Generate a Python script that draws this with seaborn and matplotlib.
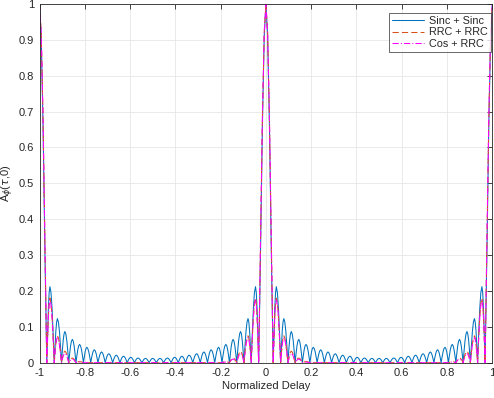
import numpy as np
import pandas as pd
import matplotlib
matplotlib.use("Agg")
import matplotlib.pyplot as plt
import seaborn as sns

# ---- data (half period, mirrored around each peak) ----
centers = [-1.0, 0.0, 1.0]
main_x = [0.0, 0.0075, 0.0155, 0.024, 0.032]
main_sinc = [1.0, 0.91, 0.66, 0.30, 0.0]
main_rrc = [1.0, 0.92, 0.68, 0.33, 0.0]
main_cos = [1.0, 0.92, 0.69, 0.34, 0.0]
null_x = [0.032, 0.065, 0.097, 0.129, 0.161, 0.194, 0.226, 0.258, 0.290,
          0.323, 0.355, 0.387, 0.419, 0.452, 0.484, 0.516]
peak_x = [0.046, 0.079, 0.112, 0.145, 0.177, 0.209, 0.242, 0.274, 0.306,
          0.339, 0.371, 0.403, 0.435, 0.468, 0.500]
peak_sinc = [0.212, 0.123, 0.087, 0.065, 0.051, 0.043, 0.036, 0.030, 0.025,
             0.021, 0.018, 0.015, 0.013, 0.012, 0.012]
peak_rrc = [0.180, 0.075, 0.032, 0.013, 0.003, 0, 0, 0, 0, 0, 0, 0, 0, 0, 0]
peak_cos = [0.175, 0.070, 0.026, 0.010, 0.002, 0, 0, 0, 0, 0, 0, 0, 0, 0, 0]
# relative height of a side lobe going from a null up to its peak
lobe_rise = [0.0, 0.38, 0.71, 0.92, 1.0]
lobe_steps = [0.0, 0.25, 0.5, 0.75, 1.0]
series_names = ["Sinc + Sinc", "RRC + RRC", "Cos + RRC"]
x_ticks = [-1, -0.8, -0.6, -0.4, -0.2, 0, 0.2, 0.4, 0.6, 0.8, 1]
x_tick_labels = ["-1", "-0.8", "-0.6", "-0.4", "-0.2", "0", "0.2", "0.4", "0.6", "0.8", "1"]
y_ticks = [0, 0.1, 0.2, 0.3, 0.4, 0.5, 0.6, 0.7, 0.8, 0.9, 1]
y_tick_labels = ["0", "0.1", "0.2", "0.3", "0.4", "0.5", "0.6", "0.7", "0.8", "0.9", "1"]


def build(main_y, peak_y):
    hx, hy = list(main_x), list(main_y)
    for i in range(len(peak_x)):
        L, P, R = null_x[i], peak_x[i], null_x[i + 1]
        for f, r in zip(lobe_steps[1:], lobe_rise[1:]):
            hx.append(L + f * (P - L)); hy.append(r * peak_y[i])
        if i + 1 < len(peak_x):
            for f, r in zip(lobe_steps[1:], lobe_rise[::-1][1:]):
                hx.append(P + f * (R - P)); hy.append(r * peak_y[i])
    pts = {}
    for c in centers:
        for x, y in zip(hx, hy):
            for xx in (c + x, c - x):
                if -1.0 - 1e-9 <= xx <= 1.0 + 1e-9:
                    pts[round(xx, 5)] = y
    xs = sorted(pts)
    return xs, [pts[k] for k in xs]


frames = []
for name, my, py in zip(series_names, [main_sinc, main_rrc, main_cos],
                        [peak_sinc, peak_rrc, peak_cos]):
    xs, ys = build(my, py)
    frames.append(pd.DataFrame({"x": xs, "y": ys, "series": name}))
df = pd.concat(frames, ignore_index=True)

sns.set_style("white")
plt.rcParams["font.family"] = ["Liberation Sans", "DejaVu Sans"]
plt.rcParams["mathtext.fontset"] = "dejavusans"

fig = plt.figure(figsize=(4.94, 3.98), dpi=100)
ax = fig.add_axes([0.080, 0.0887, 0.9166, 0.9013])

colors = ["#0072BD", "#D95319", "#FF00FF"]
dashes = [(None, None), (6, 3), (6, 2, 1, 2)]
for name, col, ds in zip(series_names, colors, dashes):
    sub = df[df["series"] == name]
    sns.lineplot(data=sub, x="x", y="y", ax=ax, color=col, lw=0.75,
                 sort=False, estimator=None, label=name)
    if ds[0] is not None:
        ax.lines[-1].set_dashes(ds)

ax.set_xlim(-1, 1)
ax.set_ylim(0, 1)
ax.set_xticks(x_ticks)
ax.set_xticklabels(x_tick_labels)
ax.set_yticks(y_ticks)
ax.set_yticklabels(y_tick_labels)
ax.grid(True, color="#e6e6e6", lw=0.6)
ax.set_axisbelow(True)
for s in ax.spines.values():
    s.set_color("#262626")
    s.set_linewidth(0.6)
ax.tick_params(direction="in", length=3.5, width=0.6, colors="#262626",
               labelsize=8, top=True, right=True, pad=4)
ax.set_xlabel("Normalized Delay", fontsize=8, color="#262626", labelpad=2)
ax.set_ylabel(r"A$_{\phi}$($\tau$,0)", fontsize=8, color="#262626", labelpad=2)

leg = ax.legend(loc="upper right", bbox_to_anchor=(0.9965, 0.976),
                fontsize=7.8, frameon=True, fancybox=False,
                handlelength=3.0, borderaxespad=0.0, borderpad=0.3,
                labelspacing=0.15, handletextpad=0.4)
leg.get_frame().set_edgecolor("#262626")
leg.get_frame().set_linewidth(0.6)

fig.savefig("out.png", dpi=100)
